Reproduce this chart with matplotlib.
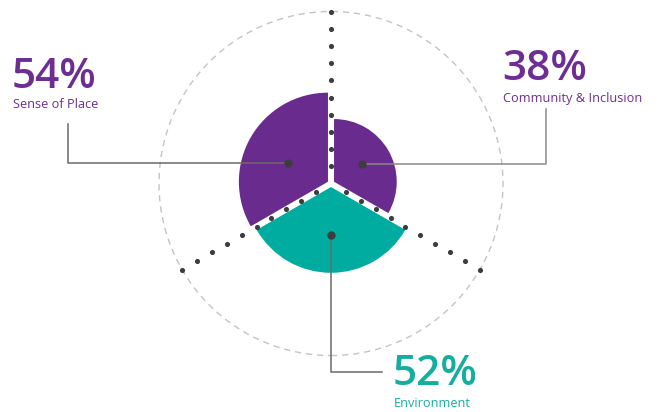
import numpy as np
import matplotlib
matplotlib.use('Agg')
from matplotlib import pyplot as plt
from matplotlib.patches import Wedge, Circle

# survey results, one 120 degree sector each
labels = ['Sense of Place', 'Community & Inclusion', 'Environment']
values = [54, 38, 52]
pct_text = ['54%', '38%', '52%']

purple = '#6a2b8e'
teal = '#00ac9f'
colors = [purple, purple, teal]
text_colors = ['#6e2d92', '#6e2d92', '#14ae9f']

W, H = 659, 412
cx, cy = 331, H - 183.5       # centre of the rose
ring_r = 172                  # dashed outer ring
px_per_pct = 1.65             # sector radius per percent
gap = 3.5                     # explode distance for each sector
starts = [90, -30, 210]       # start angle of each sector
anchor_ang = [155, 32, 270]   # where the leader dot sits inside a sector
anchor_frac = [0.5, 0.53, 0.56]
n_dots = 10

fig = plt.figure(figsize=(W / 100, H / 100), dpi=100)
ax = fig.add_axes([0, 0, 1, 1])
ax.set_xlim(0, W)
ax.set_ylim(0, H)
ax.set_aspect('equal')
ax.axis('off')

# outer dashed ring
ax.add_patch(Circle((cx, cy), ring_r, fill=False, ec='#c4c4c4', lw=1,
                    ls=(0, (4.5, 3.5)), zorder=1))

# sectors
anchors = []
for v, s, c, aa, f in zip(values, starts, colors, anchor_ang, anchor_frac):
    mid = np.radians(s + 60)
    ox = cx + gap * np.cos(mid)
    oy = cy + gap * np.sin(mid)
    r = v * px_per_pct
    ax.add_patch(Wedge((ox, oy), r, s, s + 120, fc=c, ec='none', zorder=2))
    a = np.radians(aa)
    anchors.append((ox + f * r * np.cos(a), oy + f * r * np.sin(a)))

# dotted spokes between sectors
steps = ring_r / n_dots * np.arange(1, n_dots + 1)
for s in starts:
    a = np.radians(s)
    ax.plot(cx + steps * np.cos(a), cy + steps * np.sin(a), 'o',
            color='#3d3d3d', ms=3.7, mec='none', zorder=3)

# leader lines from each sector to its label
line_c = '#6a6a6a'
(x0, y0), (x1, y1), (x2, y2) = anchors
ax.plot([x0, 68, 68], [y0, y0, H - 124], color=line_c, lw=1.1, zorder=2.5)
ax.plot([x1, 546, 546], [y1, y1, H - 109], color='#8a8a8a', lw=1.1, zorder=2.5)
ax.plot([x2, x2, 382], [y2, H - 372, H - 372], color=line_c, lw=1.1, zorder=2.5)
for x, y in anchors:
    ax.plot(x, y, 'o', color='#3d3d3d', ms=6, mec='none', zorder=4)

# labels
spots = [(12, 88, 108.3), (502, 79.5, 101.7), (393, 385, 406.7)]
for (x, yb, ys), p, lab, tc in zip(spots, pct_text, labels, text_colors):
    ax.text(x, H - yb, p, color=tc, fontsize=30.5, fontweight='semibold',
            family='Open Sans', ha='left', va='baseline')
    ax.text(x + 1, H - ys, lab, color=tc, fontsize=9.2,
            family='Open Sans', ha='left', va='baseline')

fig.savefig('out.png', dpi=100)
